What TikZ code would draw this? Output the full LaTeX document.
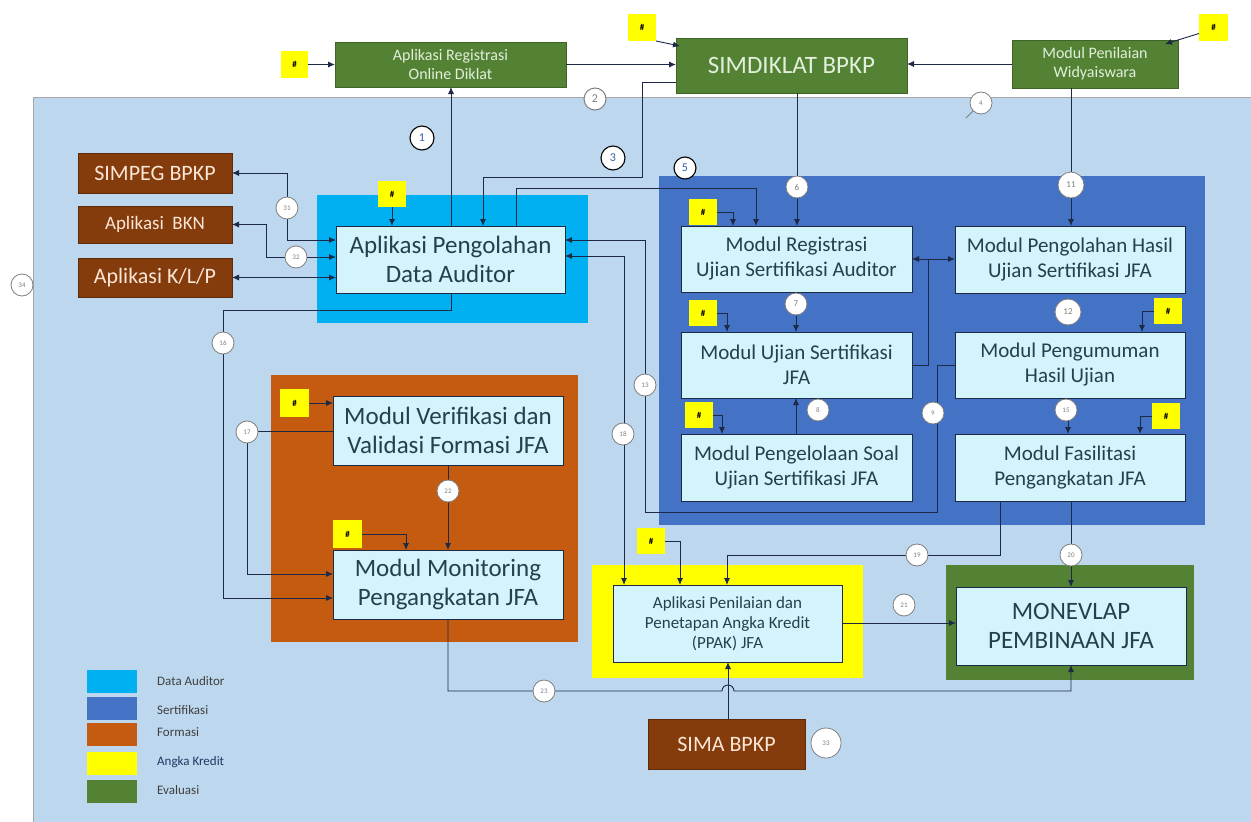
\documentclass[tikz,border=0pt]{standalone}
\usepackage{fontspec}
\setmainfont{Carlito}
\usetikzlibrary{arrows.meta}
\definecolor{bgblue}{HTML}{BDD7EE}
\definecolor{cyanc}{HTML}{00B0F0}
\definecolor{sertc}{HTML}{4472C4}
\definecolor{orgc}{HTML}{C55A11}
\definecolor{yel}{HTML}{FFFF00}
\definecolor{grn}{HTML}{548235}
\definecolor{grdark}{HTML}{3F6427}
\definecolor{grtext}{HTML}{E2EFDA}
\definecolor{brn}{HTML}{843C0C}
\definecolor{brdark}{HTML}{5E2A08}
\definecolor{brtext}{HTML}{FBE5D6}
\definecolor{inner}{HTML}{D3F4FA}
\definecolor{itext}{HTML}{24404C}
\definecolor{lc}{HTML}{1C2A45}
\definecolor{numblue}{HTML}{2E5FA8}
\definecolor{cgray}{HTML}{7F7F7F}
\newcommand{\boxat}[7]{\node[#6, minimum width={#4-#2}, minimum height={#5-#3}] (#1) at ({(#2+#4)/2},{(#3+#5)/2}) {#7};}
\newcommand{\fs}[2]{\fontsize{#1}{#2}\selectfont}
\begin{document}
\begin{tikzpicture}[x=1pt,y=-1pt,
  conn/.style={draw=lc, line width=0.9pt},
  tip/.style={-{Latex[length=7pt,width=6pt]}},
  tips/.style={{Latex[length=7pt,width=6pt]}-{Latex[length=7pt,width=6pt]}},
  inb/.style={draw=lc, line width=0.8pt, fill=inner, text=itext, align=center, inner sep=0pt, outer sep=0pt},
  grb/.style={draw=grdark, line width=0.6pt, fill=grn, text=grtext, align=center, inner sep=0pt, outer sep=0pt},
  brb/.style={draw=brdark, line width=0.6pt, fill=brn, text=brtext, align=center, inner sep=0pt, outer sep=0pt},
  hsh/.style={fill=yel, inner sep=0pt, outer sep=0pt, font=\fontsize{9}{9}\selectfont\bfseries, text=black},
  sc/.style={circle, draw=cgray, line width=0.8pt, fill=white, minimum size=22pt, inner sep=0pt, font=\fontsize{7}{7}\selectfont, text=cgray},
  bc/.style={circle, draw=black, line width=1.1pt, fill=white, minimum size=24pt, inner sep=0pt, font=\fontsize{12}{12}\selectfont, text=numblue},
  legsq/.style={inner sep=0pt, minimum width=50pt, minimum height=23pt},
  legtx/.style={anchor=west, inner sep=0pt, font=\fontsize{13}{13}\selectfont, text=black!75},
]
\useasboundingbox (0,0) rectangle (1251,822);
\fill[white] (0,0) rectangle (1251,822);
% background
\fill[bgblue] (33,97) rectangle (1251,822);
\draw[gray!70, line width=0.8pt] (33,822) -- (33,97) -- (1251,97);
% regions
\fill[cyanc] (317,195) rectangle (588,323);
\fill[sertc] (659,176) rectangle (1205,525);
\fill[orgc] (271,375) rectangle (578,642);
\fill[yel] (592,565) rectangle (863,678);
\fill[grn] (946,565) rectangle (1194,680);

% top row
\boxat{hL}{281}{51}{308}{78}{hsh}{\#}
\boxat{reg}{335}{42}{566}{87}{grb, font=\fs{16}{19}}{Aplikasi Registrasi\\Online Diklat}
\boxat{hT}{628}{14}{656}{41}{hsh}{\#}
\boxat{simd}{676}{38}{907}{93}{grb, font=\fs{25}{29}}{SIMDIKLAT BPKP}
\boxat{pen}{1012}{40}{1178}{88}{grb, font=\fs{16}{19}}{Modul Penilaian\\Widyaiswara}
\boxat{hR}{1199}{14}{1228}{41}{hsh}{\#}

% data auditor
\boxat{dat}{336}{226}{565}{293}{inb, font=\fs{25}{29}}{Aplikasi Pengolahan\\Data Auditor}
\boxat{hD}{378}{181}{406}{207}{hsh}{\#}
\boxat{simpeg}{78}{153}{232}{193}{brb, font=\fs{22}{26}}{SIMPEG BPKP}
\boxat{bkn}{78}{206}{232}{243}{brb, font=\fs{19}{22}}{Aplikasi~~BKN}
\boxat{klp}{78}{258}{232}{297}{brb, font=\fs{22}{26}}{Aplikasi K/L/P}

% sertifikasi
\boxat{reg2}{681}{226}{912}{292}{inb, font=\fs{21}{25}}{Modul Registrasi\\Ujian Sertifikasi Auditor}
\boxat{olah}{955}{226}{1185}{293}{inb, font=\fs{21}{25}}{Modul Pengolahan Hasil\\Ujian Sertifikasi JFA}
\boxat{ujian}{681}{332}{912}{398}{inb, font=\fs{21}{25}}{Modul Ujian Sertifikasi\\JFA}
\boxat{umum}{955}{332}{1185}{398}{inb, font=\fs{21}{25}}{Modul Pengumuman\\Hasil Ujian}
\boxat{soal}{681}{434}{912}{501}{inb, font=\fs{21}{25}}{Modul Pengelolaan Soal\\Ujian Sertifikasi JFA}
\boxat{fas}{955}{434}{1185}{501}{inb, font=\fs{21}{25}}{Modul Fasilitasi\\Pengangkatan JFA}
\boxat{h1}{689}{199}{717}{225}{hsh}{\#}
\boxat{h2}{689}{300}{717}{326}{hsh}{\#}
\boxat{h3}{1154}{298}{1182}{324}{hsh}{\#}
\boxat{h4}{685}{402}{713}{428}{hsh}{\#}
\boxat{h5}{1152}{403}{1180}{429}{hsh}{\#}

% formasi
\boxat{ver}{333}{396}{563}{465}{inb, font=\fs{25}{29}}{Modul Verifikasi dan\\Validasi Formasi JFA}
\boxat{mon}{333}{550}{563}{619}{inb, font=\fs{25}{29}}{Modul Monitoring\\Pengangkatan JFA}
\boxat{hV}{280}{389}{309}{417}{hsh}{\#}
\boxat{hM}{333}{520}{362}{548}{hsh}{\#}

% angka kredit / evaluasi
\boxat{ppak}{613}{585}{842}{662}{inb, font=\fs{17}{20}}{Aplikasi Penilaian dan\\Penetapan Angka Kredit\\(PPAK) JFA}
\boxat{hP}{637}{528}{665}{554}{hsh}{\#}
\boxat{mone}{956}{587}{1186}{665}{inb, font=\fs{25}{29}}{MONEVLAP\\PEMBINAAN JFA}
\boxat{sima}{648}{719}{805}{769}{brb, font=\fs{22}{26}}{SIMA BPKP}

% ---- connectors ----
\draw[conn,tip] (hL.east) -- (hL.east -| reg.west);
\draw[conn,tip] (reg.east) -- (reg.east -| simd.west);
\draw[conn,tip] (hT.south east) -- ([shift={(4,8)}]simd.north west);
\draw[conn,tip] (pen.west) -- (pen.west -| simd.east);
\draw[conn,tip] ([shift={(0,6)}]hR.west) -- ([shift={(-13,4)}]pen.north east);
\draw[conn,tip] (451,0 |- dat.north) -- (451,0 |- reg.south);
\draw[conn,tip] ([yshift=-17pt]simd.west) -| (642,177) -- (483,177) -- (483,0 |- dat.north);
\draw[conn,tip] (516,0 |- dat.north) -- (516,188) -- (756,188) -- (756,0 |- reg2.north);
\draw[conn,tip] (797,0 |- simd.south) -- (797,0 |- reg2.north);
\draw[conn,tip] (1071,0 |- pen.south) -- (1071,0 |- olah.north);
\draw[conn,tip] (hD.south) -- (hD.south |- dat.north);
% external apps
\draw[conn,tips] (simpeg.east) -- (287,0 |- simpeg.east) -- (287,240) -- (dat.west |- 0,240);
\draw[conn,tips] (bkn.east) -- (266,0 |- bkn.east) -- (266,257) -- (dat.west |- 0,257);
\draw[conn,tips] (klp.east) -- (dat.west |- klp.east);
% data auditor to others
\draw[conn,tip] (451,0 |- dat.south) -- (451,310) -- (223,310) -- (223,598) -- (mon.west |- 0,598);
\draw[conn,tip] (umum.west |- 0,365) -- (937,365) -- (937,512) -- (645,512) -- (645,240) -- (dat.east |- 0,240);
\draw[conn,tips] (dat.east |- 0,256) -- (624,256) -- (624,0 |- ppak.north);
% formasi
\draw[conn,tip] (hV.east) -- (hV.east -| ver.west);
\draw[conn,tip] (hM.east) -- (406,0 |- hM.east) -- (406,0 |- mon.north);
\draw[conn,tip] (448,0 |- ver.south) -- (448,0 |- mon.north);
\draw[conn,tip] (ver.west |- 0,431) -- (247,431) -- (247,574) -- (mon.west |- 0,574);
% sertifikasi
\draw[conn,tip] (h1.east) -- (733,0 |- h1.east) -- (733,0 |- reg2.north);
\draw[conn,tip] (h2.east) -- (727,0 |- h2.east) -- (727,0 |- ujian.north);
\draw[conn,tip] (h3.west) -- (1142,0 |- h3.west) -- (1142,0 |- umum.north);
\draw[conn,tip] (h4.east) -- (722,0 |- h4.east) -- (722,0 |- soal.north);
\draw[conn,tip] (h5.west) -- (1140,0 |- h5.west) -- (1140,0 |- fas.north);
\draw[conn,tips] (reg2.east) -- (reg2.east -| olah.west);
\draw[conn] (ujian.east |- 0,365) -- (928,365) -- (928,0 |- reg2.east);
\draw[conn,tip] (796,0 |- reg2.south) -- (796,0 |- ujian.north);
\draw[conn,tip] (796,0 |- soal.north) -- (796,0 |- ujian.south);
\draw[conn,tip] (1068,0 |- umum.south) -- (1068,0 |- fas.north);
% bottom
\draw[conn,tip] (hP.east) -- (680,0 |- hP.east) -- (680,0 |- ppak.north);
\draw[conn,tip] (1000,0 |- fas.south) -- (1000,555) -- (727,555) -- (727,0 |- ppak.north);
\draw[conn,tip] (1071,0 |- fas.south) -- (1071,0 |- mone.north);
\draw[conn,tip] (ppak.east |- 0,623) -- (mone.west |- 0,623);
\draw[conn,tip] (448,0 |- mon.south) -- (448,691) -- (722,691) arc (180:360:6) -- (1071,691) -- (1071,0 |- mone.south);
\draw[conn,tip] (728,0 |- sima.north) -- (728,0 |- ppak.south);

% ---- number circles ----
\node[bc] (c1) at (422,138) {1};
\node[circle, draw=cgray, line width=1pt, fill=white, minimum size=22pt, inner sep=0pt, font=\fontsize{12}{12}\selectfont, text=cgray] (c2) at (595,99) {2};
\node[bc] (c3) at (613,158) {3};
\node[sc] (c4) at (981,103) {4};
\draw[cgray, line width=0.8pt] (c4.south west) -- ++(-7,7);
\node[bc, minimum size=22pt] (c5) at (685,168) {5};
\node[sc, font=\fontsize{9}{9}\selectfont] (c6) at (797,187) {6};
\node[sc, minimum size=26pt, font=\fontsize{9}{9}\selectfont] (c11) at (1071,185) {11};
\node[sc, font=\fontsize{9}{9}\selectfont] (c7) at (796,304) {7};
\node[sc, minimum size=26pt, font=\fontsize{9}{9}\selectfont] (c12) at (1068,312) {12};
\node[sc] (c8) at (818,410) {8};
\node[sc] (c9) at (933,413) {9};
\node[sc] (c15) at (1066,410) {15};
\node[sc] (c13) at (645,385) {13};
\node[sc] (c18) at (623,434) {18};
\node[sc] (c16) at (223,343) {16};
\node[sc] (c17) at (247,432) {17};
\node[sc] (c22) at (448,491) {22};
\node[sc] (c31) at (287,208) {31};
\node[sc] (c32) at (296,257) {32};
\node[sc] (c34) at (22,285) {34};
\node[sc] (c19) at (917,555) {19};
\node[sc] (c20) at (1071,555) {20};
\node[sc] (c21) at (904,605) {21};
\node[sc] (c23) at (544,691) {23};
\node[sc, minimum size=30pt] (c33) at (826,743) {33};

% ---- legend ----
\node[legsq, fill=cyanc] (l1) at (112,681.5) {};
\node[legsq, fill=sertc] (l2) at (112,708.5) {};
\node[legsq, fill=orgc] (l3) at (112,734) {};
\node[legsq, fill=yel] (l4) at (112,763.5) {};
\node[legsq, fill=grn] (l5) at (112,791.5) {};
\node[legtx] (t1) at (157,681) {Data Auditor};
\node[legtx] (t2) at (157,710) {Sertifikasi};
\node[legtx] (t3) at (157,732) {Formasi};
\node[legtx, text=numblue!60!black] (t4) at (157,762) {Angka Kredit};
\node[legtx] (t5) at (157,790) {Evaluasi};
\end{tikzpicture}
\end{document}
